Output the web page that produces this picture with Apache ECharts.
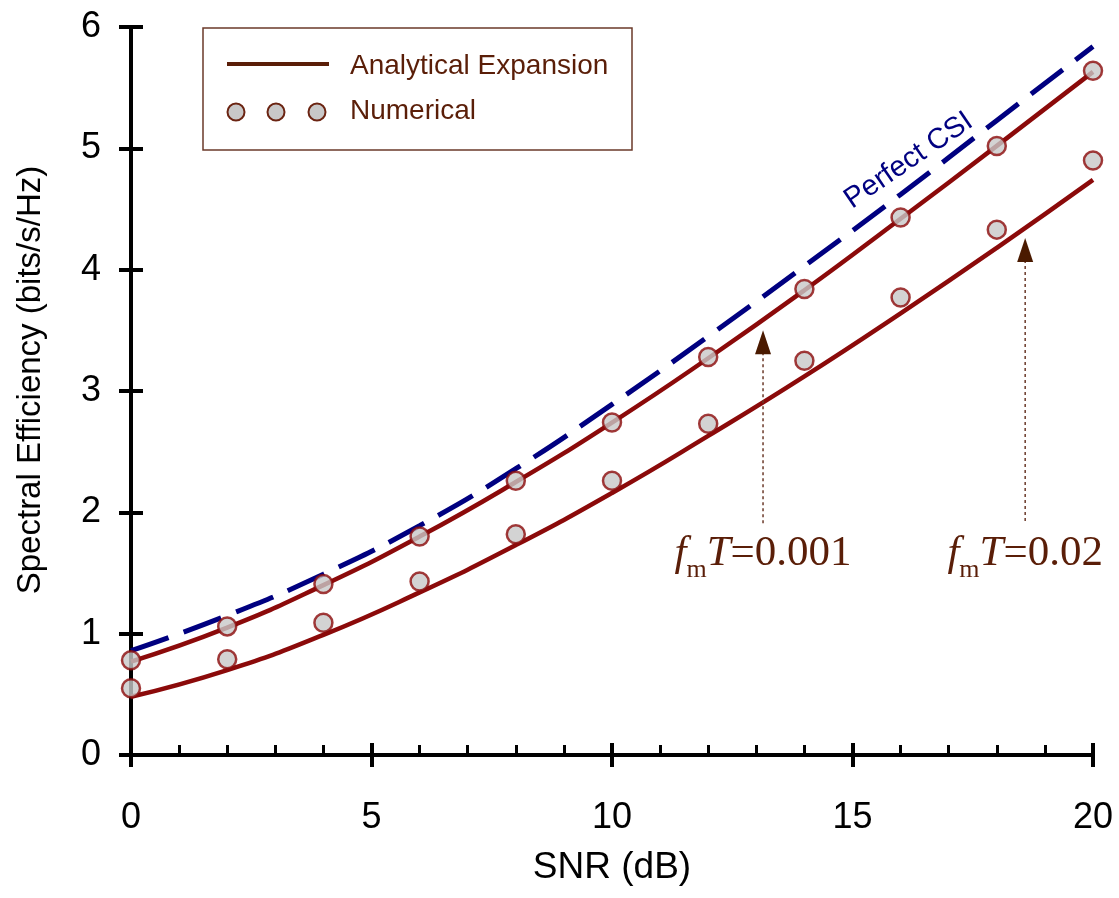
<!DOCTYPE html>
<html>
<head>
<meta charset="utf-8">
<script src="https://cdn.jsdelivr.net/npm/echarts@6/dist/echarts.min.js"></script>
<style>
html,body{margin:0;padding:0;background:#fff;}
#chart{width:1119px;height:898px;}
</style>
</head>
<body>
<div id="chart"></div>
<script>
// ---- data ----
const snr = [0, 2, 4, 6, 8, 10, 12, 14, 16, 18, 20];
const perfectCSI   = [0.86, 1.15, 1.49, 1.89, 2.36, 2.89, 3.45, 4.03, 4.62, 5.23, 5.84];
const analytic001  = [0.77, 1.05, 1.40, 1.80, 2.25, 2.74, 3.27, 3.83, 4.42, 5.02, 5.63];
const analytic002  = [0.48, 0.70, 0.99, 1.34, 1.73, 2.16, 2.63, 3.12, 3.64, 4.18, 4.74];
const numerical001 = [0.78, 1.06, 1.41, 1.80, 2.26, 2.74, 3.28, 3.84, 4.43, 5.02, 5.64];
const numerical002 = [0.55, 0.79, 1.09, 1.43, 1.82, 2.26, 2.73, 3.25, 3.77, 4.33, 4.90];
const xTicks = [0, 5, 10, 15, 20];
const yTicks = [0, 1, 2, 3, 4, 5, 6];
const legendNames = ['Analytical Expansion', 'Numerical'];
const annotLabels = ['0.001', '0.02'];
const annotX = [13.14, 18.59];
const annotTipY = [3.50, 4.26];

const pairs = (xs, ys) => xs.map((x, i) => [x, ys[i]]);

const SANS = '"Liberation Sans Narrow", "Arial Narrow", "Liberation Sans", Arial, sans-serif';
const SERIF = '"Liberation Serif", "Times New Roman", serif';
const RED = '#8b0a0a';
const BROWN = '#5a1e08';

const chart = echarts.init(document.getElementById('chart'), null, {renderer: 'canvas'});

const baseX = {
  type: 'value', min: xTicks[0], max: xTicks[xTicks.length - 1], interval: 5,
  splitLine: {show: false},
  axisLine: {show: true, onZero: false, lineStyle: {color: '#000', width: 4}}
};
const baseY = {
  type: 'value', min: yTicks[0], max: yTicks[yTicks.length - 1], interval: 1,
  splitLine: {show: false},
  axisLine: {show: true, onZero: false, lineStyle: {color: '#000', width: 4}}
};

const option = {
  backgroundColor: '#fff',
  animation: false,
  grid: {left: 131, right: 26, top: 27, bottom: 143, containLabel: false, outerBoundsMode: 'none'},
  xAxis: [
    Object.assign({}, baseX, {
      position: 'bottom',
      name: 'SNR (dB)', nameLocation: 'middle', nameGap: 94,
      nameTextStyle: {fontFamily: SANS, fontSize: 37, color: '#000'},
      axisTick: {show: true, inside: false, length: 12, lineStyle: {color: '#000', width: 4}},
      axisLabel: {show: true, margin: 45, fontFamily: SANS, fontSize: 36, color: '#000'}
    }),
    Object.assign({}, baseX, {
      position: 'bottom',
      axisTick: {show: true, inside: true, length: 12, lineStyle: {color: '#000', width: 4}},
      minorTick: {show: true, splitNumber: 5, length: 10, lineStyle: {color: '#000', width: 3}},
      axisLabel: {show: false}
    })
  ],
  yAxis: [
    Object.assign({}, baseY, {
      position: 'left',
      name: 'Spectral Efficiency (bits/s/Hz)', nameLocation: 'middle', nameGap: 84,
      nameTextStyle: {fontFamily: SANS, fontSize: 33, color: '#000', padding: [0, 0, 0, 22]},
      axisTick: {show: true, inside: false, length: 12, lineStyle: {color: '#000', width: 4}},
      axisLabel: {show: true, margin: 30, fontFamily: SANS, fontSize: 36, color: '#000'}
    }),
    Object.assign({}, baseY, {
      position: 'left',
      axisTick: {show: true, inside: true, length: 12, lineStyle: {color: '#000', width: 4}},
      axisLabel: {show: false}
    })
  ],
  series: [
    {
      name: 'Perfect CSI', type: 'line', data: pairs(snr, perfectCSI),
      smooth: true, showSymbol: false, symbol: 'none', clip: false, z: 3,
      lineStyle: {color: '#000080', width: 5, type: [40, 16]}
    },
    {
      name: 'Analytical fmT=0.001', type: 'line', data: pairs(snr, analytic001),
      smooth: true, showSymbol: false, symbol: 'none', clip: false, z: 4,
      lineStyle: {color: RED, width: 4.5}
    },
    {
      name: 'Analytical fmT=0.02', type: 'line', data: pairs(snr, analytic002),
      smooth: true, showSymbol: false, symbol: 'none', clip: false, z: 4,
      lineStyle: {color: RED, width: 4.5}
    },
    {
      name: 'Numerical fmT=0.001', type: 'scatter', data: pairs(snr, numerical001),
      symbol: 'circle', symbolSize: 18, clip: false, z: 5,
      itemStyle: {color: '#c8c8c8', borderColor: RED, borderWidth: 2.5}
    },
    {
      name: 'Numerical fmT=0.02', type: 'scatter', data: pairs(snr, numerical002),
      symbol: 'circle', symbolSize: 18, clip: false, z: 5,
      itemStyle: {color: '#c8c8c8', borderColor: RED, borderWidth: 2.5}
    }
  ]
};
chart.setOption(option);

const px = (x, y) => chart.convertToPixel({xAxisIndex: 0, yAxisIndex: 0}, [x, y]);

const graphics = [];
// legend box
graphics.push({type: 'rect', shape: {x: 203, y: 28, width: 429, height: 122},
  style: {fill: '#fff', stroke: '#6b3a2a', lineWidth: 1.5}, z: 10});
graphics.push({type: 'line', shape: {x1: 227, y1: 64, x2: 329, y2: 64},
  style: {stroke: BROWN, lineWidth: 4}, z: 11});
[236, 276, 317].forEach(cx => graphics.push({type: 'circle', shape: {cx: cx, cy: 112, r: 8.5},
  style: {fill: '#c8c8c8', stroke: '#6b2412', lineWidth: 2}, z: 11}));
graphics.push({type: 'text', x: 350, y: 66, z: 11,
  style: {text: legendNames[0], font: '28px ' + SANS, fill: BROWN, align: 'left', verticalAlign: 'middle'}});
graphics.push({type: 'text', x: 350, y: 111, z: 11,
  style: {text: legendNames[1], font: '28px ' + SANS, fill: BROWN, align: 'left', verticalAlign: 'middle'}});

// Perfect CSI label
const pcsi = px(16.17, 4.9);
graphics.push({type: 'text', x: pcsi[0], y: pcsi[1], rotation: 0.6, z: 11,
  style: {text: 'Perfect CSI', font: '29px ' + SANS, fill: '#000080', align: 'center', verticalAlign: 'middle'}});

// annotations with arrows
annotX.forEach((ax, i) => {
  const tip = px(ax, annotTipY[i]);
  const bottom = px(ax, 1.91);
  const textPos = px(ax, 1.66);
  graphics.push({type: 'line', shape: {x1: tip[0], y1: tip[1] + 22, x2: bottom[0], y2: bottom[1]},
    style: {stroke: '#6b3a2a', lineWidth: 1.5, lineDash: [3, 3]}, z: 9});
  graphics.push({type: 'polygon', shape: {points: [[tip[0], tip[1]], [tip[0] - 8, tip[1] + 24], [tip[0] + 8, tip[1] + 24]]},
    style: {fill: '#4a1a00'}, z: 9});
  graphics.push({type: 'text', x: textPos[0], y: textPos[1], z: 11,
    style: {
      text: '{i|f}{s|m}{i|T}{n|=' + annotLabels[i] + '}',
      align: 'center', verticalAlign: 'middle',
      rich: {
        i: {fontFamily: SERIF, fontStyle: 'italic', fontSize: 43, fill: BROWN, color: BROWN, lineHeight: 50},
        s: {fontFamily: SERIF, fontSize: 26, fill: BROWN, color: BROWN, padding: [34, 0, 0, 0], lineHeight: 50},
        n: {fontFamily: SERIF, fontSize: 43, fill: BROWN, color: BROWN, lineHeight: 50}
      }
    }});
});

chart.setOption({graphic: graphics});
</script>
</body>
</html>
